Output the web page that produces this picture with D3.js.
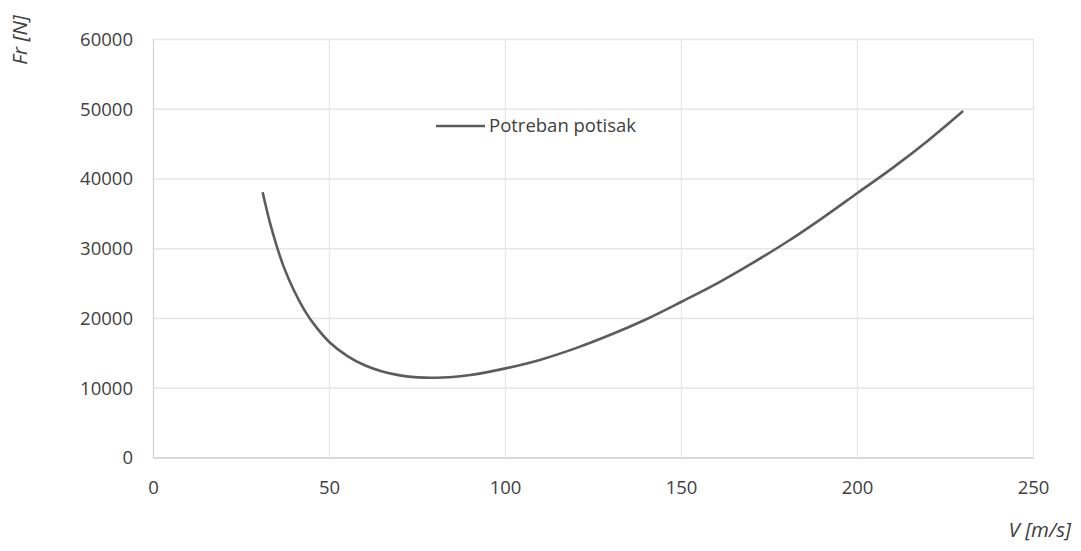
<!DOCTYPE html>
<html><head><meta charset="utf-8">
<script src="https://cdn.jsdelivr.net/npm/d3@7"></script>
<style>
body{margin:0;background:#fff;}
text{font-family:"Open Sans","Liberation Sans",sans-serif;}
</style></head>
<body><svg id="c" width="1081" height="551"></svg>
<script>
const speeds = [31,33,35,37,40,43,46,50,55,60,65,70,75,80,85,90,100,110,120,130,140,150,160,170,180,190,200,210,220,230];
const thrust = [38100,33900,30400,27400,23900,21100,18900,16600,14650,13290,12400,11850,11560,11500,11620,11890,12850,14100,15750,17700,19900,22400,25000,27900,31000,34400,38000,41600,45500,49750];
const xTicks = [0,50,100,150,200,250];
const yTicks = [0,10000,20000,30000,40000,50000,60000];
const seriesName = "Potreban potisak";
const xTitle = "V [m/s]";
const yTitle = "Fr [N]";

const svg = d3.select("#c");
const x = d3.scaleLinear().domain([0,250]).range([153.5,1033.5]);
const y = d3.scaleLinear().domain([0,60000]).range([458,39.5]);
const fs = 18.5;
const tfs = 20.5;

// gridlines
svg.append("g").selectAll("line").data(yTicks).join("line")
  .attr("x1",x(0)).attr("x2",x(250))
  .attr("y1",d=>y(d)).attr("y2",d=>y(d))
  .attr("stroke",d=>d===0?"#cccccc":"#e6e6e6").attr("stroke-width",1.3);
svg.append("g").selectAll("line").data(xTicks).join("line")
  .attr("y1",y(0)).attr("y2",y(60000))
  .attr("x1",d=>x(d)).attr("x2",d=>x(d))
  .attr("stroke",d=>d===0?"#d4d4d4":"#e6e6e6").attr("stroke-width",1.3);

// tick labels
svg.append("g").selectAll("text").data(yTicks).join("text")
  .attr("x",133).attr("y",d=>y(d)).attr("dy","0.35em")
  .attr("text-anchor","end").attr("font-size",fs).attr("fill","#404040")
  .text(d=>d);
svg.append("g").selectAll("text").data(xTicks).join("text")
  .attr("x",d=>x(d)).attr("y",494)
  .attr("text-anchor","middle").attr("font-size",fs).attr("fill","#404040")
  .text(d=>d);

// axis titles
svg.append("text").attr("transform","translate(27,40) rotate(-90)")
  .attr("text-anchor","middle").attr("font-size",tfs).attr("font-style","italic")
  .attr("fill","#404040").text(yTitle);
svg.append("text").attr("x",1071).attr("y",537)
  .attr("text-anchor","end").attr("font-size",tfs).attr("font-style","italic")
  .attr("fill","#404040").text(xTitle);

// line
const data = speeds.map((v,i)=>[v,thrust[i]]);
svg.append("path").datum(data)
  .attr("d",d3.line().x(d=>x(d[0])).y(d=>y(d[1])).curve(d3.curveCatmullRom.alpha(0.5)))
  .attr("fill","none").attr("stroke","#5c5c5c").attr("stroke-width",2.6);

// legend
svg.append("line").attr("x1",436).attr("x2",485).attr("y1",126).attr("y2",126)
  .attr("stroke","#5c5c5c").attr("stroke-width",2.6);
svg.append("text").attr("x",489).attr("y",126).attr("dy","0.35em")
  .attr("font-size",fs).attr("fill","#404040").text(seriesName);
</script></body></html>
